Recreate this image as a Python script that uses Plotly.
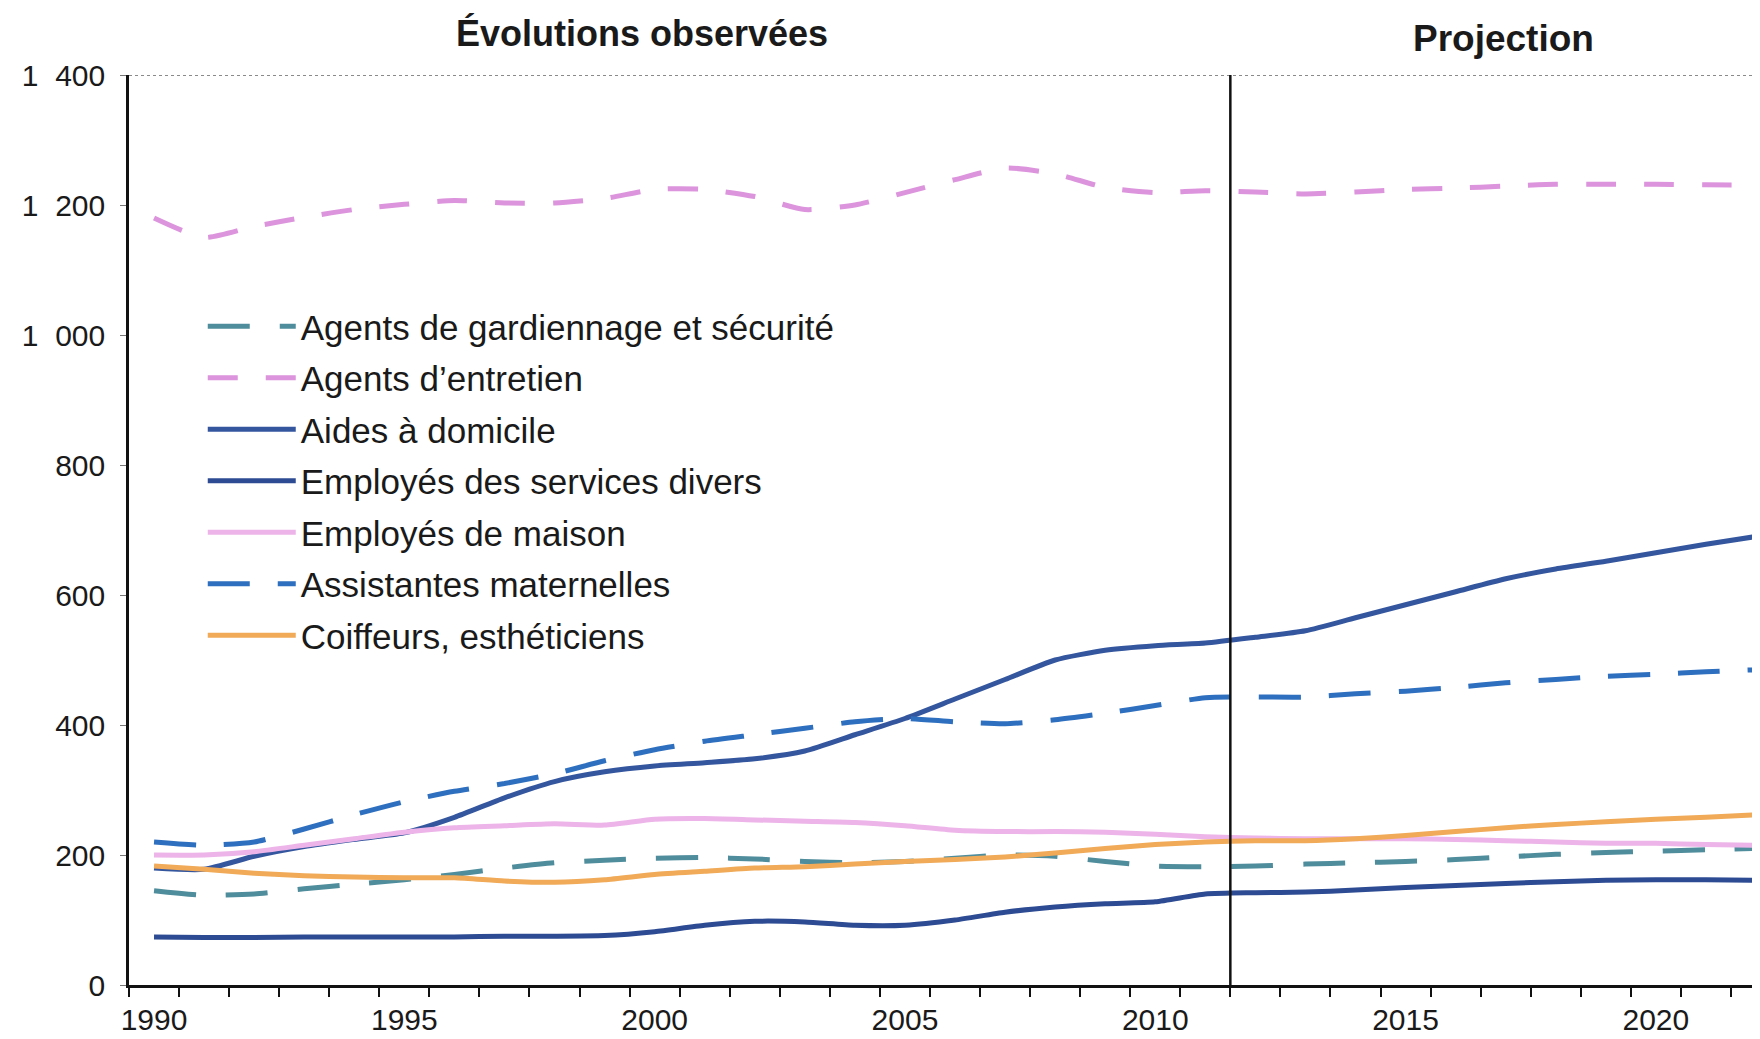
import plotly.graph_objects as go

years = list(range(1990, 2023))

gardiennage = [145, 138, 140, 148, 155, 162, 170, 180, 188, 192, 195, 196, 194, 190, 188,
               190, 195, 200, 198, 190, 183, 182, 183, 186, 188, 190, 193, 197, 201, 204,
               206, 208, 210]
entretien = [1180, 1150, 1167, 1181, 1193, 1201, 1207, 1203, 1203, 1210, 1224, 1224, 1213,
             1193, 1200, 1219, 1239, 1257, 1248, 1227, 1219, 1222, 1220, 1217, 1220, 1224,
             1226, 1229, 1232, 1232, 1232, 1231, 1231]
aides_domicile = [180, 178, 198, 213, 224, 234, 258, 288, 313, 328, 337, 342, 348, 360, 385,
                  410, 440, 470, 500, 515, 522, 526, 535, 545, 565, 585, 605, 625, 640, 652,
                  665, 678, 690]
services_divers = [74, 73, 73, 74, 74, 74, 74, 75, 75, 76, 82, 92, 98, 97, 92, 92, 100, 112,
                   120, 125, 128, 140, 142, 143, 146, 150, 153, 156, 159, 161, 162, 162, 161]
employes_maison = [200, 200, 205, 215, 225, 235, 242, 245, 248, 246, 255, 256, 254, 252, 250,
                   245, 238, 236, 236, 235, 232, 228, 226, 225, 225, 225, 224, 222, 220, 218,
                   218, 216, 215]
assistantes = [220, 215, 220, 240, 262, 282, 298, 310, 325, 345, 362, 375, 385, 395, 405, 410,
               405, 402, 408, 418, 430, 442, 443, 443, 448, 452, 458, 465, 470, 475, 478, 482,
               485]
coiffeurs = [183, 178, 172, 168, 166, 165, 165, 160, 158, 162, 170, 175, 180, 182, 186, 190,
             193, 197, 203, 210, 216, 220, 222, 222, 225, 230, 236, 242, 247, 251, 255, 258,
             262]

series_names = ["Agents de gardiennage et sécurité", "Agents d’entretien", "Aides à domicile",
                "Employés des services divers", "Employés de maison", "Assistantes maternelles",
                "Coiffeurs, esthéticiens"]
series_values = [gardiennage, entretien, aides_domicile, services_divers, employes_maison,
                 assistantes, coiffeurs]
series_colors = ["#4f8d9c", "#dc94dc", "#34569f", "#2c4b93", "#ecb4e8", "#2e6fbf", "#f0aa58"]
series_dash = ["42px,30px", "30px,28px", "solid", "solid", "solid", "42px,28px", "solid"]

projection_start = 2011.5
x_tick_years = [1990, 1995, 2000, 2005, 2010, 2015, 2020]
y_ticks = [0, 200, 400, 600, 800, 1000, 1200, 1400]
y_tick_labels = ["0", "200", "400", "600", "800", "1\u00a0\u00a0000", "1\u00a0\u00a0200",
                 "1\u00a0\u00a0400"]

FONT = "Liberation Sans, Arial, sans-serif"

fig = go.Figure()
for i, (name, vals, col, dash) in enumerate(zip(series_names, series_values, series_colors,
                                                  series_dash)):
    fig.add_trace(go.Scatter(
        x=years, y=vals, name=name, mode="lines", legendgroup=f"g{i}",
        line=dict(color=col, width=5, dash=dash, shape="spline", smoothing=0.6),
    ))

# top border (dotted) and projection divider
fig.add_shape(type="line", xref="paper", yref="y", x0=0, x1=1, y0=1400, y1=1400,
              line=dict(color="#8a8a8a", width=2, dash="dot"), layer="below")
fig.add_shape(type="line", xref="x", yref="y", x0=projection_start, x1=projection_start,
              y0=0, y1=1400, line=dict(color="#111111", width=2.5))

fig.add_annotation(text="<b>Évolutions observées</b>", x=1999.75, xref="x", y=1.046,
                   yref="paper", showarrow=False,
                   font=dict(family=FONT, size=36, color="#1a1a1a"),
                   xanchor="center", yanchor="middle")
fig.add_annotation(text="<b>Projection</b>", x=2016.95, xref="x", y=1.04, yref="paper",
                   showarrow=False, font=dict(family=FONT, size=37, color="#1a1a1a"),
                   xanchor="center", yanchor="middle")

fig.update_layout(
    width=1760, height=1039,
    margin=dict(l=121, r=0, t=67, b=62),
    paper_bgcolor="white", plot_bgcolor="white",
    font=dict(family=FONT, color="#1a1a1a"),
    showlegend=True,
    legend=dict(x=0.045, xanchor="left", y=0.756, yanchor="top",
                font=dict(family=FONT, size=35, color="#1a1a1a"),
                bgcolor="rgba(0,0,0,0)", itemwidth=88, tracegroupgap=3,
                traceorder="grouped"),
    xaxis=dict(range=[1989.5, 2022.24], showgrid=False, zeroline=False,
               tickvals=x_tick_years, ticks="", tickfont=dict(size=30),
               showline=True, linecolor="#111111", linewidth=2.5,
               minor=dict(tick0=1989.5, dtick=1, ticks="outside", ticklen=9,
                          tickcolor="#111111", tickwidth=2),
               ticklabelstandoff=6),
    yaxis=dict(range=[0, 1400], showgrid=False, zeroline=False, tickvals=y_ticks,
               ticktext=y_tick_labels, ticks="outside", ticklen=6, tickcolor="#777777",
               tickfont=dict(size=30), showline=True, linecolor="#111111", linewidth=2.5,
               ticklabelstandoff=9),
)

fig.write_html("out.html")
